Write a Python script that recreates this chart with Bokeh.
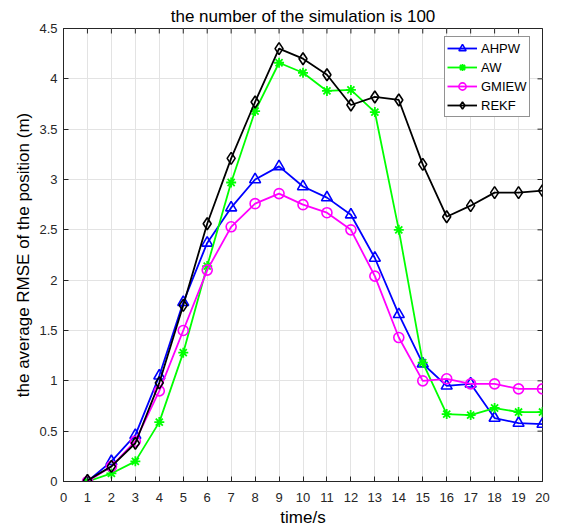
import math
from bokeh.plotting import figure
from bokeh.models import FixedTicker, Range1d, Legend, LegendItem
from bokeh.embed import file_html
from bokeh.resources import INLINE

# ---- data ----
t = list(range(1, 21))
ahpw = [0.00, 0.20, 0.46, 1.05, 1.78, 2.37, 2.72, 3.00, 3.13, 2.93,
        2.82, 2.65, 2.22, 1.66, 1.17, 0.95, 0.97, 0.63, 0.58, 0.57]
aw = [0.00, 0.08, 0.20, 0.59, 1.28, 2.14, 2.97, 3.68, 4.16, 4.06,
      3.88, 3.89, 3.67, 2.50, 1.18, 0.67, 0.66, 0.73, 0.69, 0.69]
gmiew = [0.00, 0.15, 0.40, 0.90, 1.50, 2.10, 2.53, 2.76, 2.86, 2.75,
         2.67, 2.50, 2.04, 1.43, 1.00, 1.02, 0.97, 0.97, 0.92, 0.92]
rekf = [0.01, 0.15, 0.38, 0.98, 1.75, 2.56, 3.21, 3.77, 4.30, 4.20,
        4.04, 3.74, 3.82, 3.79, 3.15, 2.63, 2.74, 2.87, 2.87, 2.89]

series_names = ["AHPW", "AW", "GMIEW", "REKF"]
x_ticks = list(range(0, 21))
y_ticks = [0, 0.5, 1, 1.5, 2, 2.5, 3, 3.5, 4, 4.5]
y_tick_labels = ["0", "0.5", "1", "1.5", "2", "2.5", "3", "3.5", "4", "4.5"]
x_min, x_max = 0, 20
y_min, y_max = 0, 4.5

title_text = "the number of the simulation is 100"
x_label = "time/s"
y_label = "the average RMSE of the position (m)"

FONT = "Liberation Sans"
TXT = "#262626"

p = figure(width=561, height=530, output_backend="svg", toolbar_location=None,
           x_range=Range1d(x_min, x_max), y_range=Range1d(y_min, y_max),
           min_border_left=63, min_border_right=19, min_border_top=28,
           min_border_bottom=49, background_fill_color="white",
           border_fill_color="white")

p.title.text = title_text
p.title.align = "center"
p.title.text_font = FONT
p.title.text_font_size = "17px"
p.title.text_font_style = "normal"
p.title.text_color = "black"
p.title.standoff = 6

p.outline_line_color = TXT
p.outline_line_width = 1

for ax in [p.xaxis[0], p.yaxis[0]]:
    ax.axis_line_color = TXT
    ax.major_tick_line_color = TXT
    ax.major_tick_in = 5
    ax.major_tick_out = 0
    ax.minor_tick_line_color = None
    ax.major_label_text_font = FONT
    ax.major_label_text_font_size = "13px"
    ax.major_label_text_color = TXT
    ax.axis_label_text_font = FONT
    ax.axis_label_text_font_size = "17px"
    ax.axis_label_text_font_style = "normal"
    ax.axis_label_text_color = "black"

p.xaxis[0].ticker = FixedTicker(ticks=x_ticks)
p.yaxis[0].ticker = FixedTicker(ticks=y_ticks)
p.yaxis[0].major_label_overrides = {v: s for v, s in zip(y_ticks, y_tick_labels)}
p.xaxis[0].axis_label = x_label
p.yaxis[0].axis_label = y_label
p.xaxis[0].major_label_standoff = 11
p.xaxis[0].axis_label_standoff = 3
p.yaxis[0].major_label_standoff = 6
p.yaxis[0].axis_label_standoff = 3

p.grid.grid_line_color = "#e3e3e3"
p.grid.grid_line_width = 1
p.xgrid.ticker = FixedTicker(ticks=x_ticks)
p.ygrid.ticker = FixedTicker(ticks=y_ticks)

# inward ticks on the top and right edges of the box
p.scatter(x_ticks, [y_max] * len(x_ticks), marker="dash", size=10,
          angle=math.pi / 2, line_color=TXT, line_width=1)
p.scatter([x_max] * len(y_ticks), y_ticks, marker="dash", size=10,
          line_color=TXT, line_width=1)

items = []
LW = 1.8
# AHPW
l1 = p.line(t, ahpw, line_color="#0000ff", line_width=LW)
m1 = p.scatter(t, ahpw, marker="triangle", size=11, line_color="#0000ff",
               fill_color=None, line_width=1.6)
items.append(LegendItem(label=series_names[0], renderers=[l1, m1]))
# AW
l2 = p.line(t, aw, line_color="#00ff00", line_width=LW)
m2 = p.scatter(t, aw, marker="asterisk", size=10, line_color="#00ff00",
               line_width=1.8)
items.append(LegendItem(label=series_names[1], renderers=[l2, m2]))
# GMIEW
l3 = p.line(t, gmiew, line_color="#ff00ff", line_width=LW)
m3 = p.scatter(t, gmiew, marker="circle", size=10, line_color="#ff00ff",
               fill_color=None, line_width=1.6)
items.append(LegendItem(label=series_names[2], renderers=[l3, m3]))
# REKF
l4 = p.line(t, rekf, line_color="black", line_width=LW)
m4 = p.scatter(t, rekf, marker="diamond", size=12, line_color="black",
               fill_color=None, line_width=1.6)
items.append(LegendItem(label=series_names[3], renderers=[l4, m4]))

legend = Legend(items=items, location=(381, 364))
legend.label_text_font = FONT
legend.label_text_font_size = "13px"
legend.label_text_color = "black"
legend.glyph_width = 30
legend.glyph_height = 18
legend.label_height = 18
legend.label_standoff = 4
legend.spacing = 1
legend.padding = 2
legend.margin = 0
legend.border_line_color = TXT
legend.border_line_width = 1
legend.background_fill_color = "white"
legend.background_fill_alpha = 1
p.add_layout(legend, "center")

open("out.html", "w").write(file_html(p, INLINE))
